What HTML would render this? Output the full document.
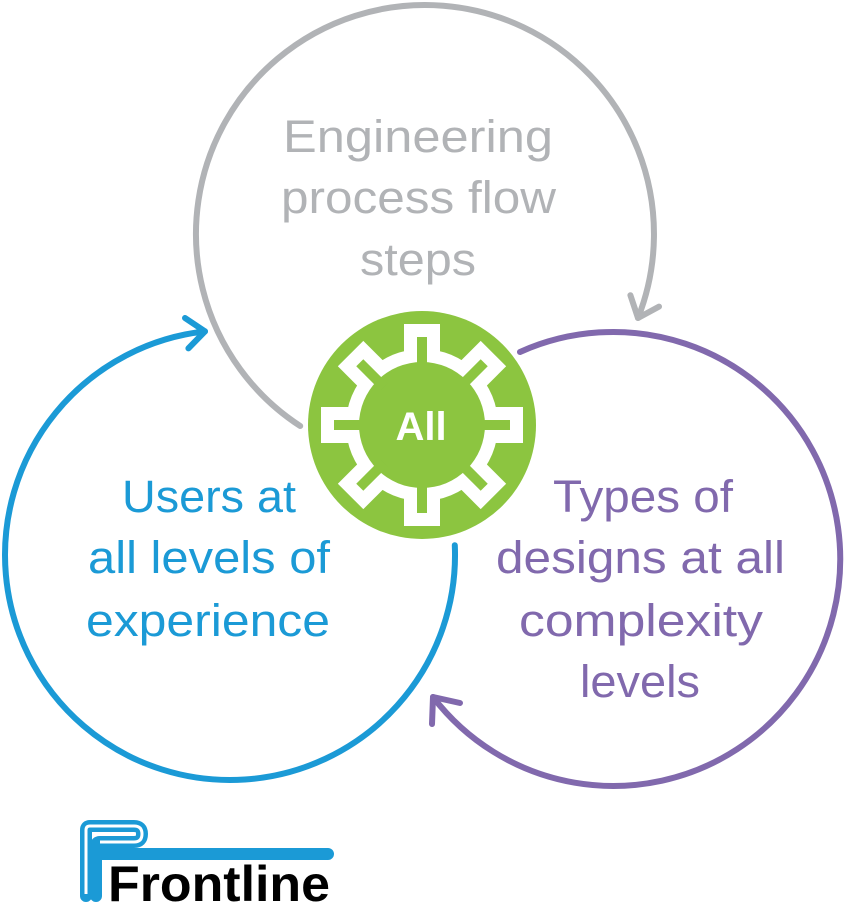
<!DOCTYPE html>
<html><head><meta charset="utf-8"><style>
html,body{margin:0;padding:0;background:#fff;}
svg{display:block;}
text{font-family:"Liberation Sans",sans-serif;}
</style></head><body>
<svg width="845" height="903" viewBox="0 0 845 903" xmlns="http://www.w3.org/2000/svg">
<g fill="none" stroke-width="6" stroke-linecap="round" stroke-linejoin="round">
  <path d="M300.2 426 A229 229 0 1 1 638 318" stroke="#b1b3b6"/>
  <polyline points="659,306.6 638,318 630.4,295.2" stroke="#b1b3b6"/>
  <path d="M454.8 545.2 A225 225 0 1 1 205 331.4" stroke="#1b9ad6"/>
  <polyline points="185,318 205,331.4 188.4,348.4" stroke="#1b9ad6"/>
  <path d="M520 352 A227 227 0 1 1 433 697" stroke="#8169ad"/>
  <polyline points="432,724 433,697 460,703" stroke="#8169ad"/>
</g>
<circle cx="422" cy="425" r="114" fill="#8cc540"/>
<g transform="translate(422,425)">
  <g fill="#fff">
    <circle r="76"/>
    <rect x="-18" y="-101" width="36" height="50"/>
    <rect x="-18" y="-101" width="36" height="50" transform="rotate(45)"/>
    <rect x="-18" y="-101" width="36" height="50" transform="rotate(90)"/>
    <rect x="-18" y="-101" width="36" height="50" transform="rotate(135)"/>
    <rect x="-18" y="-101" width="36" height="50" transform="rotate(180)"/>
    <rect x="-18" y="-101" width="36" height="50" transform="rotate(225)"/>
    <rect x="-18" y="-101" width="36" height="50" transform="rotate(270)"/>
    <rect x="-18" y="-101" width="36" height="50" transform="rotate(315)"/>
  </g>
  <g fill="#8cc540">
    <circle r="63"/>
    <rect x="-5" y="-88" width="10" height="34"/>
    <rect x="-5" y="-88" width="10" height="34" transform="rotate(45)"/>
    <rect x="-5" y="-88" width="10" height="34" transform="rotate(90)"/>
    <rect x="-5" y="-88" width="10" height="34" transform="rotate(135)"/>
    <rect x="-5" y="-88" width="10" height="34" transform="rotate(180)"/>
    <rect x="-5" y="-88" width="10" height="34" transform="rotate(225)"/>
    <rect x="-5" y="-88" width="10" height="34" transform="rotate(270)"/>
    <rect x="-5" y="-88" width="10" height="34" transform="rotate(315)"/>
  </g>
</g>
<text x="421" y="440" fill="#fff" font-size="40" font-weight="bold" text-anchor="middle">All</text>
<g font-size="45" lengthAdjust="spacingAndGlyphs">
  <text x="283" y="152" fill="#b1b3b6" textLength="270" lengthAdjust="spacingAndGlyphs">Engineering</text>
  <text x="281" y="213" fill="#b1b3b6" textLength="275" lengthAdjust="spacingAndGlyphs">process flow</text>
  <text x="360" y="275" fill="#b1b3b6" textLength="116" lengthAdjust="spacingAndGlyphs">steps</text>
  <text x="122" y="512" fill="#1b9ad6" textLength="174" lengthAdjust="spacingAndGlyphs">Users at</text>
  <text x="88" y="573" fill="#1b9ad6" textLength="242" lengthAdjust="spacingAndGlyphs">all levels of</text>
  <text x="86" y="636" fill="#1b9ad6" textLength="244" lengthAdjust="spacingAndGlyphs">experience</text>
  <text x="553" y="512" fill="#8169ad" textLength="180" lengthAdjust="spacingAndGlyphs">Types of</text>
  <text x="496" y="573" fill="#8169ad" textLength="289" lengthAdjust="spacingAndGlyphs">designs at all</text>
  <text x="519" y="636" fill="#8169ad" textLength="244" lengthAdjust="spacingAndGlyphs">complexity</text>
  <text x="580" y="697" fill="#8169ad" textLength="120" lengthAdjust="spacingAndGlyphs">levels</text>
</g>
<g fill="none" stroke-linecap="round" stroke-linejoin="round" stroke="#1b9ad6">
  <path d="M86 896 L86 830 Q86 826 90 826 L134 826 Q142 826 142 834 Q142 842 134 842 L100 842 Q96 842 96 846 L96 850 Q96 854 100 854 L328 854 M96 854 L96 896" stroke-width="12"/>
</g>
<path d="M86 894 L86 830 Q86 826 90 826 L134 826 Q142 826 142 834 Q142 842 134 842 L100 842" fill="none" stroke="#fff" stroke-width="3"/>
<text x="108" y="901" font-size="50" font-weight="bold" fill="#000" textLength="222" lengthAdjust="spacingAndGlyphs">Frontline</text>
</svg>
</body></html>
